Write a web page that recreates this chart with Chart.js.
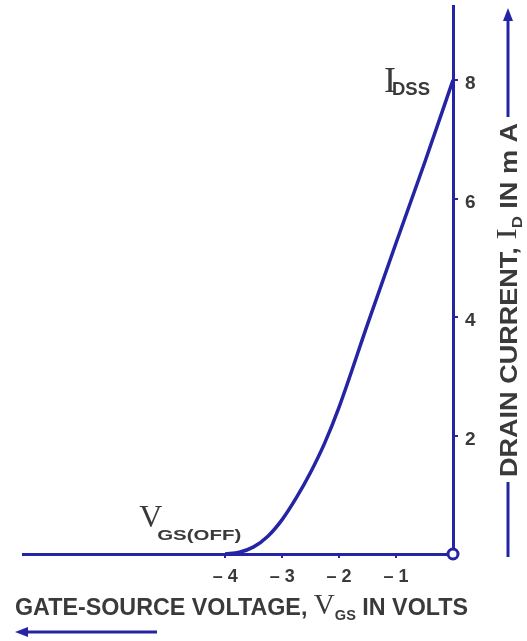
<!DOCTYPE html>
<html>
<head>
<meta charset="utf-8">
<script src="https://cdn.jsdelivr.net/npm/chart.js@4"></script>
<style>
  html, body { margin: 0; padding: 0; background: #fff; }
  canvas { display: block; }
</style>
</head>
<body>
<canvas id="transferChart" width="527" height="641"></canvas>
<script>
// JFET transfer curve: drain current vs gate-source voltage
const vgs = [-4, -3.75, -3.5, -3.25, -3, -2.75, -2.5, -2.25, -2, -1.5, -1, -0.5, 0];
const idrain = [0, 0.03, 0.12, 0.3, 0.58, 0.95, 1.38, 1.88, 2.48, 3.88, 5.25, 6.6, 8];
const xTicks = [-4, -3, -2, -1];
const yTicks = [2, 4, 6, 8];

const blue = '#2424a4';
const ink = '#3a3a3a';
const sans = '"Liberation Sans", Arial, sans-serif';
const serif = '"Liberation Serif", "Times New Roman", serif';

// draws a row of text pieces squeezed to a given total width
function drawRun(ctx, pieces, width) {
  let total = 0;
  pieces.forEach((p) => {
    ctx.font = p.font;
    p.w = ctx.measureText(p.t).width;
    total += p.w;
  });
  const k = width / total;
  ctx.save();
  ctx.scale(k, 1);
  let cx = 0;
  pieces.forEach((p) => {
    ctx.font = p.font;
    ctx.fillText(p.t, cx, p.dy || 0);
    cx += p.w;
  });
  ctx.restore();
}

function arrow(ctx, x1, y1, x2, y2) {
  const ang = Math.atan2(y2 - y1, x2 - x1);
  const len = 13, half = 5;
  const bx = x2 - len * Math.cos(ang), by = y2 - len * Math.sin(ang);
  ctx.beginPath();
  ctx.moveTo(x1, y1);
  ctx.lineTo(bx, by);
  ctx.stroke();
  ctx.beginPath();
  ctx.moveTo(x2, y2);
  ctx.lineTo(bx + half * Math.sin(ang), by - half * Math.cos(ang));
  ctx.lineTo(bx - half * Math.sin(ang), by + half * Math.cos(ang));
  ctx.closePath();
  ctx.fill();
}

const annotate = {
  id: 'annotate',
  afterDraw(chart) {
    const { ctx, scales: { x, y } } = chart;
    ctx.save();
    ctx.fillStyle = ink;
    ctx.textBaseline = 'alphabetic';
    ctx.textAlign = 'left';

    // I_DSS near the top of the curve
    const xd = x.getPixelForValue(0);
    const yd = y.getPixelForValue(8);
    ctx.font = `36px ${serif}`;
    ctx.fillText('I', xd - 69, yd + 12);
    ctx.save();
    ctx.translate(xd - 61, yd + 15);
    drawRun(ctx, [{ t: 'DSS', font: `bold 19px ${sans}` }], 38);
    ctx.restore();

    // V_GS(OFF) at pinch-off
    const xo = x.getPixelForValue(-4);
    const yo = y.getPixelForValue(0);
    ctx.font = `32px ${serif}`;
    ctx.fillText('V', xo - 86, yo - 27);
    ctx.save();
    ctx.translate(xo - 68, yo - 14);
    drawRun(ctx, [{ t: 'GS(OFF)', font: `bold 15px ${sans}` }], 84);
    ctx.restore();

    // bottom axis title
    ctx.save();
    ctx.translate(15, 615);
    drawRun(ctx, [
      { t: 'GATE-SOURCE VOLTAGE, ', font: `bold 24px ${sans}` },
      { t: 'V', font: `30px ${serif}`, dy: -1 },
      { t: 'GS', font: `bold 15px ${sans}`, dy: 5 },
      { t: ' IN VOLTS', font: `bold 24px ${sans}` }
    ], 453);
    ctx.restore();

    // right axis title, reading upward
    ctx.save();
    ctx.translate(517, 477);
    ctx.rotate(-Math.PI / 2);
    drawRun(ctx, [
      { t: 'DRAIN CURRENT, ', font: `bold 24px ${sans}` },
      { t: 'I', font: `30px ${serif}`, dy: -1 },
      { t: 'D', font: `bold 15px ${sans}`, dy: 5 },
      { t: ' IN m A', font: `bold 24px ${sans}` }
    ], 354);
    ctx.restore();

    // direction arrows
    ctx.strokeStyle = blue;
    ctx.fillStyle = blue;
    ctx.lineWidth = 3;
    arrow(ctx, 508, 117, 508, 8);
    ctx.beginPath();
    ctx.moveTo(508, 482);
    ctx.lineTo(508, 557);
    ctx.stroke();
    arrow(ctx, 157, 632, 15, 632);

    // origin marker
    ctx.beginPath();
    ctx.arc(xd, yo, 5, 0, Math.PI * 2);
    ctx.fillStyle = '#fff';
    ctx.fill();
    ctx.stroke();
    ctx.restore();
  }
};

new Chart(document.getElementById('transferChart'), {
  type: 'scatter',
  data: {
    datasets: [{
      data: vgs.map((v, i) => ({ x: v, y: idrain[i] })),
      showLine: true,
      borderColor: blue,
      borderWidth: 3.5,
      pointRadius: 0,
      cubicInterpolationMode: 'monotone'
    }]
  },
  options: {
    responsive: false,
    animation: false,
    devicePixelRatio: 1,
    layout: { padding: { left: 23, top: 6, right: 0, bottom: 0 } },
    plugins: { legend: { display: false }, tooltip: { enabled: false } },
    scales: {
      x: {
        type: 'linear',
        position: 'bottom',
        min: -7.55,
        max: 0,
        afterBuildTicks: (scale) => { scale.ticks = xTicks.map((v) => ({ value: v })); },
        afterFit: (scale) => {
          scale.height = 87;
          scale.paddingLeft = 0;
          scale.paddingRight = 0;
        },
        grid: { drawOnChartArea: false, drawTicks: true, tickLength: 4, color: blue, lineWidth: 2 },
        border: { display: true, color: blue, width: 3 },
        ticks: {
          color: ink,
          padding: 8,
          maxRotation: 0,
          font: { family: 'Liberation Sans', size: 18, weight: 'bold' },
          callback: (v) => '\u2013 ' + Math.abs(v)
        }
      },
      y: {
        type: 'linear',
        position: 'right',
        min: 0,
        max: 9.25,
        afterBuildTicks: (scale) => { scale.ticks = yTicks.map((v) => ({ value: v })); },
        afterFit: (scale) => {
          scale.width = 74;
          scale.paddingTop = 0;
          scale.paddingBottom = 0;
        },
        grid: { drawOnChartArea: false, drawTicks: true, tickLength: 5, color: blue, lineWidth: 2 },
        border: { display: true, color: blue, width: 3 },
        ticks: {
          color: ink,
          padding: 7,
          labelOffset: 4,
          font: { family: 'Liberation Sans', size: 19, weight: 'bold' }
        }
      }
    }
  },
  plugins: [annotate]
});
</script>
</body>
</html>
